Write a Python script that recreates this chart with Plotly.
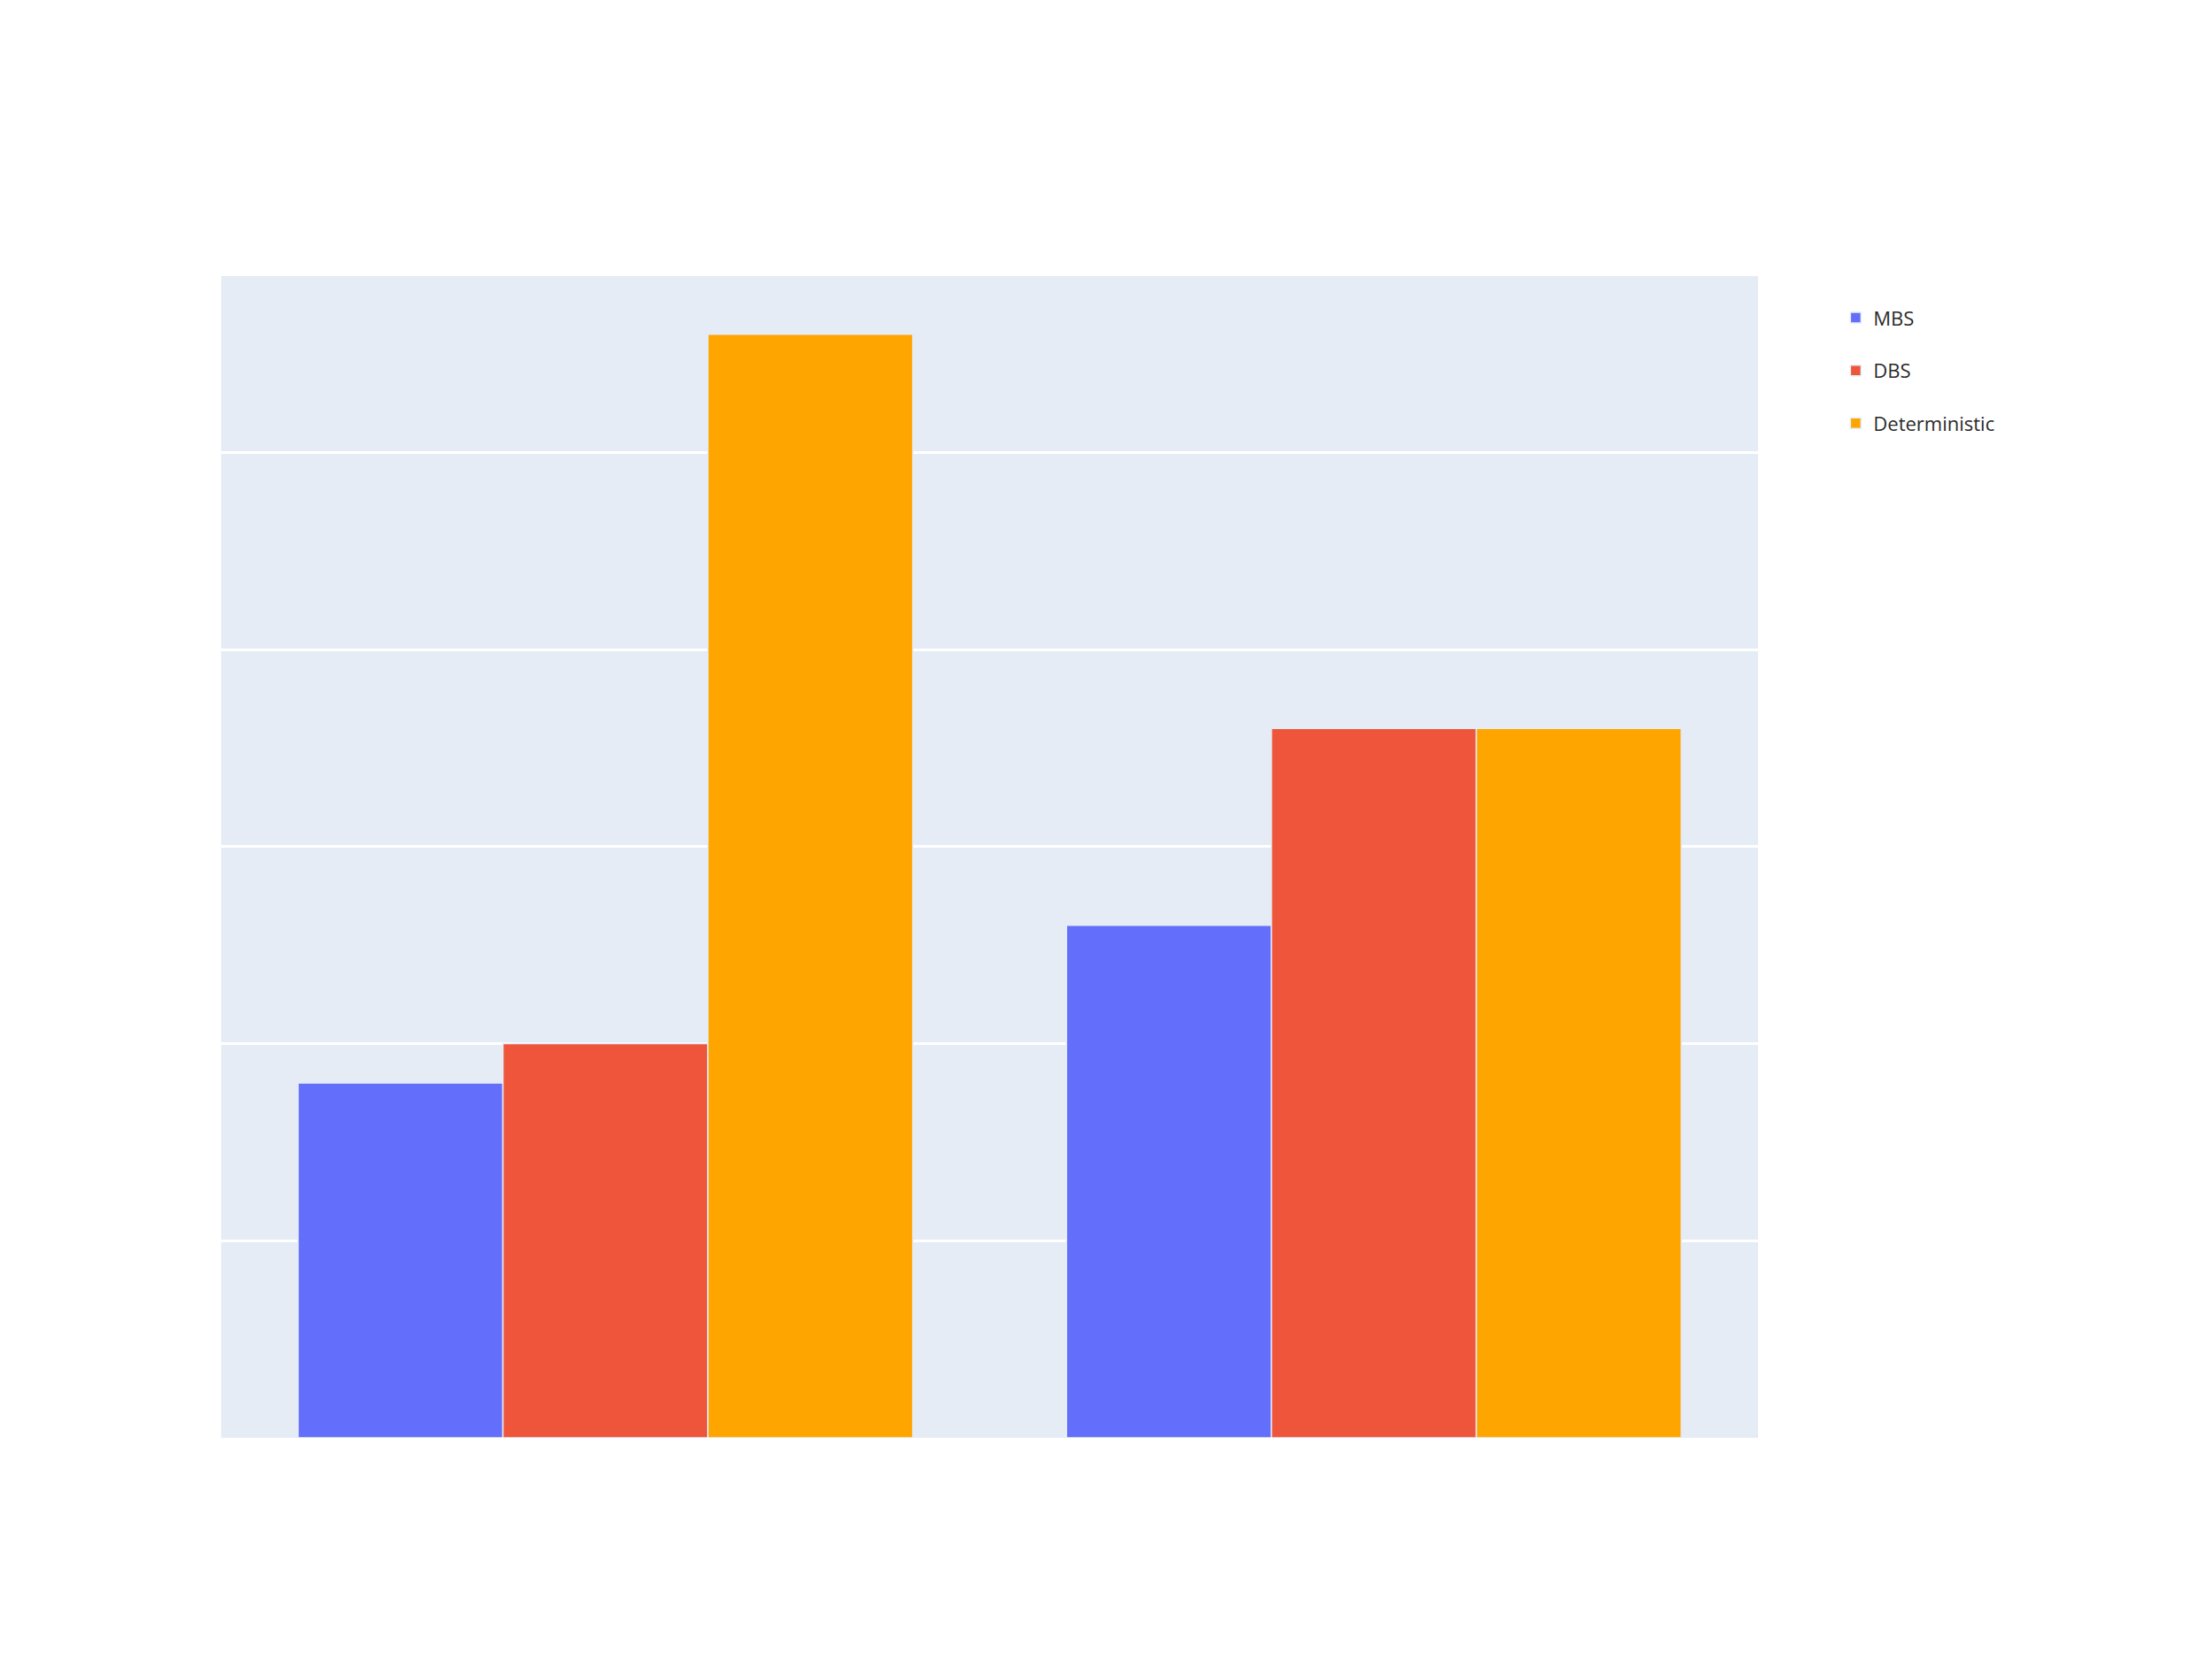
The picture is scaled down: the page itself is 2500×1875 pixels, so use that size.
import plotly.graph_objects as go

# data (tick labels are hidden there)
groups = ["Case 1", "Case 2"]
mbs = [1.8, 2.6]
dbs = [2.0, 3.6]
deterministic = [5.6, 3.6]

series_names = ["MBS", "DBS", "Deterministic"]
series_values = [mbs, dbs, deterministic]
series_colors = ["#636EFA", "#EF553B", "#FFA500"]

fig = go.Figure()
for name, vals, col in zip(series_names, series_values, series_colors):
    fig.add_trace(go.Bar(
        x=groups,
        y=vals,
        name=name,
        legendgroup=name,
        marker=dict(color=col, line=dict(color="#E5ECF6", width=1.5)),
    ))

# page body has an 8px margin, so the figure is a bit smaller than the window
fig.update_layout(
    template="plotly",
    width=2484,
    height=1859,
    margin=dict(l=242, r=505, t=304, b=242),
    barmode="group",
    bargap=0.2,
    font=dict(family="Open Sans, Noto Sans, sans-serif", size=22, color="#2a2a2a"),
    legend=dict(
        x=1.052,
        y=0.98,
        tracegroupgap=28,
        font=dict(size=22),
    ),
)

fig.update_xaxes(showticklabels=False)
fig.update_yaxes(showticklabels=False, dtick=1, gridwidth=3, zeroline=False)

fig.write_html("out.html")
